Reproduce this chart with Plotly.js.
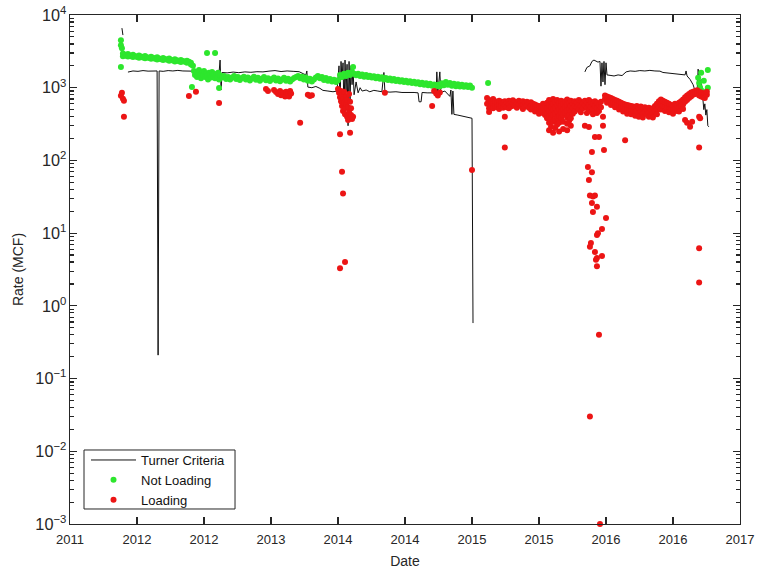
<!DOCTYPE html>
<html>
<head>
<meta charset="utf-8">
<script src="https://cdn.plot.ly/plotly-3.0.1.min.js"></script>
<style>
  html, body { margin: 0; padding: 0; background: #fff; }
  #chart { width: 759px; height: 572px; }
</style>
</head>
<body>
<div id="chart"></div>
<script>
// Dates are MATLAB serial day numbers (datenum); rates are in MCF.

// Turner critical rate, one value per date; null breaks the line.
const turnerDate = [
  734955, 734958, null,
  734973, 734988, 735003, 735018, 735033, 735048, 735060, 735063, 735066, 735078, 735093, 735107,
  735122, 735137, 735152, 735164, 735176, 735191, 735206, 735221, 735236, 735245, 735248, 735251,
  735254, 735269, 735287, 735304, 735322, 735340, 735358, 735376, 735394, 735412, 735430, 735448,
  735466, 735484, 735496, 735504, 735507, 735510, 735522, 735534, 735546, 735555, 735570, 735585,
  735597, 735603, 735606, 735609, 735612, 735615, 735618, 735621, 735624, 735627, 735630, 735633,
  735636, 735639, 735642, 735645, 735648, 735654, 735660, 735666, 735672, 735684, 735695, 735707,
  735719, 735731, 735737, 735740, 735755, 735773, 735791, 735809, 735827, 735839, 735842, 735848,
  735851, 735866, 735881, 735893, 735895, 735898, 735904, 735907, 735919, 735928, 735934, 735937,
  735940, 735943, 735946, 735958, 735970, 735982, 735994, 736000, 736003, null,
  736337, 736343, 736352, 736358, 736364, 736370, 736376, 736382, 736385, 736388, 736391, 736394,
  736397, 736400, 736403, 736412, 736424, 736436, 736448, 736460, 736472, 736487, 736501, 736516,
  736531, 736546, 736561, 736570, 736582, 736597, 736612, 736627, 736636, 736639, 736642, 736651,
  736660, 736666, 736672, 736675, 736678, 736681, 736684, 736687, 736690, 736692, 736695, 736698,
  736701, 736704, 736707
];
const turnerRate = [
  6600, 5300, null,
  1640, 1700, 1680, 1720, 1690, 1710, 1700, 0.21, 1700, 1680, 1720, 1700,
  1730, 1700, 1710, 1690, 1620, 1650, 1600, 1640, 1610, 1620, 2400, 930,
  1620, 1600, 1640, 1610, 1650, 1630, 1660, 1650, 1690, 1720, 1670, 1700,
  1680, 1660, 1560, 1500, 1700, 1020, 1000, 1040, 980, 920, 900, 880,
  900, 2000, 600, 2300, 1300, 2200, 450, 2400, 900, 2100, 300, 2300,
  700, 2000, 1100, 1800, 800, 1200, 850, 1000, 900, 930, 880, 920,
  900, 880, 1620, 880, 870, 880, 860, 870, 860, 850, 640, 640,
  860, 850, 860, 850, 1650, 860, 1650, 860, 900, 800, 760, 930,
  430, 900, 430, 420, 410, 400, 390, 380, 0.58, null,
  1650, 1900, 2000, 2300, 2400, 2350, 2250, 2300, 1050, 2200, 1200, 2300,
  1100, 2200, 1500, 1480, 1450, 1500, 1470, 1650, 1700, 1680, 1720, 1700,
  1730, 1700, 1690, 1620, 1600, 1580, 1560, 1540, 1500, 1700, 1450, 1300,
  1100, 900, 880, 1800, 1300, 1000, 1300, 800, 700, 500, 600, 420,
  500, 300, 290
];

// Measured rates above the Turner criterion (one or more readings per date).
const notLoadingDate = [
  734952, 734955, 734958, 734964, 734967, 734973, 734979, 734982, 734988, 734994, 735000, 735006,
  735012, 735018, 735024, 735030, 735036, 735042, 735048, 735054, 735060, 735066, 735072, 735078,
  735084, 735090, 735096, 735101, 735107, 735113, 735119, 735125, 735131, 735137, 735143, 735149,
  735155, 735161,
  735164, 735167, 735170, 735173, 735176, 735179, 735182, 735185, 735188, 735191, 735194, 735197,
  735200, 735203, 735206, 735209, 735212, 735215, 735218, 735221, 735224, 735227, 735230, 735233,
  735236, 735239, 735242, 735245,
  735248, 735254, 735260, 735266, 735272, 735278, 735284, 735290, 735296,
  735301, 735307, 735313, 735319, 735325, 735331, 735337, 735343, 735349, 735355, 735361, 735367,
  735373, 735379, 735385, 735391, 735397, 735403, 735409, 735415, 735421, 735427, 735433, 735439,
  735445, 735451, 735457, 735463, 735469, 735475, 735481, 735487, 735493,
  735498, 735504, 735510, 735516, 735522, 735528, 735534, 735540, 735546, 735552, 735558, 735564,
  735570, 735576, 735582, 735588, 735594, 735600, 735606, 735612, 735618, 735624, 735630, 735636,
  735642, 735645, 735648, 735654, 735660, 735666, 735672, 735678, 735684, 735690,
  735695, 735701, 735707, 735713, 735719, 735725, 735731, 735737, 735743, 735749, 735755, 735761,
  735767, 735773, 735779, 735785, 735791, 735797, 735803, 735809, 735815, 735821, 735827, 735833,
  735839, 735845, 735851, 735857, 735863, 735869, 735875, 735881, 735887, 735893,
  735898, 735904, 735910, 735916, 735922, 735928, 735934, 735940, 735946, 735952, 735958, 735964,
  735970, 735976, 735982, 735988, 735994, 736000,
  736048,
  736675, 736678, 736681, 736684, 736687, 736692, 736704
];
const notLoadingRate = [
  [4500, 3850, 1930], [3500], [2950, 2700], [2850], [2750], [2900, 2680], [2780], [2700], [2840, 2640], [2730], [2650], [2780, 2590],
  [2680], [2600], [2720, 2540], [2630], [2560], [2670, 2500], [2580], [2510], [2620, 2450], [2530], [2460], [2570, 2400],
  [2480], [2420], [2520, 2350], [2430], [2370], [2460, 2300], [2380], [2320], [2400, 2250], [2330], [2270], [2350, 2200],
  [2280], [2200, 2080],
  [1020], [2000], [1700], [1500], [1650], [1400], [1580], [1750], [1450], [1350], [1600], [1500],
  [1700], [1400], [1550], [3000, 1450], [1300], [1600], [1500], [1380], [1650], [1450], [1550], [3000, 1350],
  [1500], [1420], [1600], [990, 1300],
  [1480], [1380], [1450], [1320], [1400], [1300], [1380], [1450], [1320],
  [1400], [1280], [1360], [1420], [1300], [1380], [1260], [1340], [1410], [1290], [1370], [1250],
  [1330], [1400], [1270], [1350], [1240], [1320], [1380], [1260], [1340], [1230], [1300], [1370],
  [1250], [1330], [1220], [1300], [1360], [1400], [1450], [1350], [1420],
  [1300], [1380], [1250], [1330], [1220], [1300], [1380], [1450], [1350], [1400], [1280], [1360],
  [1250], [1320], [1220], [1290], [1200], [1270], [1500], [1400], [1550], [1450], [1600], [1500],
  [1650], [1930], [1550], [1480], [1560], [1450], [1520], [1420], [1490], [1400],
  [1460], [1380], [1440], [1350], [1410], [1330], [1390], [1300], [1360], [1280], [1340], [1260],
  [1320], [1240], [1290], [1220], [1270], [1200], [1250], [1180], [1230], [1160], [1210], [1140],
  [1190], [1120], [1170], [1100], [1150], [1080], [1130], [1060], [1110], [1050],
  [1100], [1040], [1150], [1080], [1200], [1100], [1160], [1060], [1130], [1050], [1120], [1040],
  [1100], [1030], [1080], [1020], [1070], [1000],
  [1160],
  [1370], [1160], [1000], [1600], [900], [1250], [1750, 1000]
];

// Measured rates below the Turner criterion (liquid loading).
const loadingDate = [
  734952, 734955, 734958, 734961, 735155, 735176, 735245,
  735385, 735391, 735409, 735415, 735421, 735427, 735430, 735436, 735442, 735445, 735451, 735454,
  735457, 735460, 735487, 735510, 735516, 735522,
  735600, 735603, 735606, 735609, 735612, 735615, 735618, 735621, 735624, 735627, 735630, 735633,
  735636, 735639, 735642, 735645,
  735740, 735881, 735887, 735893, 735898, 735904, 736000,
  736045, 736051, 736057, 736063, 736069, 736075, 736081, 736087, 736093, 736098, 736104, 736110,
  736116, 736122, 736128, 736134, 736140, 736146, 736152, 736158, 736164, 736170, 736176, 736182,
  736188, 736194, 736200, 736206, 736212, 736218, 736224, 736230, 736236, 736242, 736248, 736254,
  736260, 736266, 736272, 736278, 736284, 736290, 736295, 736301, 736307, 736313, 736319, 736325,
  736331, 736337, 736343, 736346, 736349, 736352, 736355, 736358, 736361, 736367, 736370, 736373,
  736376, 736379, 736382, 736385, 736388, 736391, 736394, 736397, 736400, 736403, 736409, 736415,
  736421, 736427, 736433, 736439, 736445, 736451, 736457, 736463, 736469, 736475, 736481, 736487,
  736492, 736498, 736504, 736510, 736516, 736522, 736528, 736534, 736540, 736546, 736552, 736558,
  736564, 736570, 736576, 736582, 736588, 736594, 736600, 736606, 736612, 736618, 736624, 736630,
  736636, 736642, 736648, 736651, 736654, 736657, 736660, 736666, 736672, 736678, 736681, 736684,
  736690, 736695, 736701
];
const loadingRate = [
  [775], [850], [705], [660, 400], [770], [880], [615],
  [960], [900], [930], [870], [820], [900], [790], [850], [760], [880], [810], [760],
  [900], [830], [330], [800], [770], [790],
  [960], [850], [740, 230, 3.3], [900, 650], [560, 800, 70], [700, 480, 35], [620, 880], [520, 430, 4.0], [760, 600], [400, 680], [540, 360], [460, 820],
  [640, 380, 240], [520, 420], [370], [400],
  [850], [560], [900], [830], [780], [860], [74],
  [720, 600], [680, 520, 465], [640, 560], [700, 600, 520], [650, 560], [620, 540], [660, 580, 510], [640, 560], [610, 530], [650, 570, 400, 150], [620, 540], [660, 590, 520],
  [630, 550], [670, 600], [640, 560], [610, 530], [660, 590], [630, 560], [650, 580, 510], [620, 550], [640, 570], [610, 530], [630, 560, 500], [600, 520],
  [590, 510, 470], [570, 490], [560, 480, 440], [540, 470], [600, 520, 450], [560, 480, 420], [620, 520, 440, 380], [680, 580, 480, 400, 330, 260], [650, 540, 450, 370, 290], [700, 600, 500, 420, 340, 240], [640, 530, 440, 360, 280], [680, 570, 470, 390, 310],
  [620, 500, 410, 330, 250], [660, 560, 460, 380], [600, 500, 420, 340, 270], [650, 540, 450], [690, 580, 480, 390, 320, 260], [620, 510, 420, 350], [660, 560, 470, 380, 300], [600, 520, 440], [650, 560, 470], [620, 540], [680, 580, 500], [640, 550, 460],
  [610, 520], [660, 570, 300], [620, 530, 450], [81], [680, 580, 480, 288, 54], [33, 6.5, 0.03], [640, 540, 7.3], [131, 69, 26], [600, 500, 430, 32, 19.5], [650, 560, 210, 33, 5.5], [4.3], [620, 520, 450, 23, 9.4, 4.55, 3.5],
  [10], [580, 480, 210, 0.4], [0.001], [640, 540], [11.4, 4.85], [400, 300], [139], [780, 700], [16.2], [760, 680, 620], [740, 660], [720, 640, 580],
  [700, 620], [680, 600, 540], [660, 580], [640, 560, 500], [620, 540], [600, 520, 470], [590, 510, 190], [580, 500, 440], [570, 490], [560, 480, 430], [550, 470], [540, 460, 410],
  [560, 480], [530, 450, 400], [550, 470], [520, 440, 390], [540, 460], [510, 430], [530, 450, 400], [500, 420], [520, 440, 390], [560, 470], [600, 500, 430], [650, 540],
  [690, 580, 500], [660, 560], [640, 540, 480], [620, 520], [600, 500, 460], [580, 500], [570, 490, 440], [600, 510], [560, 480], [620, 530, 470], [650, 560], [690, 590, 510],
  [740, 640, 360], [780, 680, 330], [820, 720], [290], [860, 760], [340], [880, 800], [900, 820], [920, 840], [880, 780, 400, 150, 6.2, 2.1], [380], [860, 760],
  [840, 740], [820, 720], [800, 880]
];

// Date axis: ticks every 200 days, labelled by year (datetick 'yyyy').
const tickDate = [734800, 735000, 735200, 735400, 735600, 735800, 736000, 736200, 736400, 736600, 736800];
const tickLabel = ['2011', '2012', '2012', '2013', '2014', '2014', '2015', '2015', '2016', '2016', '2017'];

// Rate axis spans these decades (10^-3 .. 10^4).
const rateRange = [-3, 4];

const MATLAB_UNIX_EPOCH = 719529; // datenum of 1970-01-01
function dnToISO(dn) {
  if (dn == null) return null;
  return new Date((dn - MATLAB_UNIX_EPOCH) * 86400000).toISOString().slice(0, 10);
}
function expand(dates, rates) {
  const x = [], y = [];
  dates.forEach((d, i) => {
    rates[i].forEach(v => { x.push(dnToISO(d)); y.push(v); });
  });
  return { x, y };
}

const green = expand(notLoadingDate, notLoadingRate);
const red = expand(loadingDate, loadingRate);

const fontFamily = '"Liberation Sans", Arial, Helvetica, sans-serif';
const ink = '#262626';

const traces = [
  {
    type: 'scatter', mode: 'lines', name: 'Turner Criteria',
    x: turnerDate.map(dnToISO), y: turnerRate,
    connectgaps: false,
    line: { color: '#111111', width: 1 }
  },
  {
    type: 'scatter', mode: 'markers', name: 'Not Loading',
    x: green.x, y: green.y,
    marker: { color: '#2de62d', size: 6 }
  },
  {
    type: 'scatter', mode: 'markers', name: 'Loading',
    x: red.x, y: red.y, cliponaxis: false,
    marker: { color: '#ec1515', size: 6 }
  }
];

const layout = {
  width: 759, height: 572,
  margin: { l: 70, r: 19, t: 15, b: 48 },
  paper_bgcolor: '#ffffff', plot_bgcolor: '#ffffff',
  font: { family: fontFamily, size: 13, color: ink },
  showlegend: true,
  xaxis: {
    type: 'date',
    range: [dnToISO(tickDate[0]), dnToISO(tickDate[tickDate.length - 1])],
    tickmode: 'array',
    tickvals: tickDate.map(dnToISO),
    ticktext: tickLabel,
    ticks: 'inside', ticklen: 7, tickcolor: ink, tickwidth: 1.2,
    ticklabelstandoff: 3,
    showline: true, linecolor: ink, linewidth: 1, mirror: 'ticks',
    showgrid: false, zeroline: false,
    tickfont: { family: fontFamily, size: 13, color: ink },
    title: { text: 'Date', font: { family: fontFamily, size: 14, color: ink }, standoff: 10 }
  },
  yaxis: {
    type: 'log', range: rateRange,
    tickmode: 'linear', tick0: 0, dtick: 1,
    exponentformat: 'power', showexponent: 'all',
    // keep the power-of-ten style for 1 and 10 as well
    labelalias: { '1': '10<sup>0</sup>', '10': '10<sup>1</sup>' },
    ticks: 'inside', ticklen: 7, tickcolor: ink, tickwidth: 1.2,
    minor: { dtick: 'D1', ticks: 'inside', ticklen: 4, tickcolor: ink, tickwidth: 1.2, showgrid: false },
    showline: true, linecolor: ink, linewidth: 1, mirror: 'ticks',
    showgrid: false, zeroline: false,
    tickfont: { family: fontFamily, size: 13, color: ink },
    title: { text: 'Rate (MCF)', font: { family: fontFamily, size: 14, color: ink }, standoff: 8 }
  },
  legend: {
    x: 0.0239, y: 0.0864, xanchor: 'left', yanchor: 'middle',
    bgcolor: 'rgba(0,0,0,0)', borderwidth: 0,
    font: { family: fontFamily, size: 13, color: '#111111' },
    itemwidth: 45, tracegroupgap: 0
  },
  // frame around the legend entries
  shapes: [{
    type: 'rect', xref: 'paper', yref: 'paper', layer: 'below',
    x0: 0.0209, x1: 0.2463, y0: 0.0295, y1: 0.1454,
    line: { color: ink, width: 1 }, fillcolor: '#ffffff'
  }]
};

Plotly.newPlot('chart', traces, layout, { displayModeBar: false, staticPlot: true });
</script>
</body>
</html>
